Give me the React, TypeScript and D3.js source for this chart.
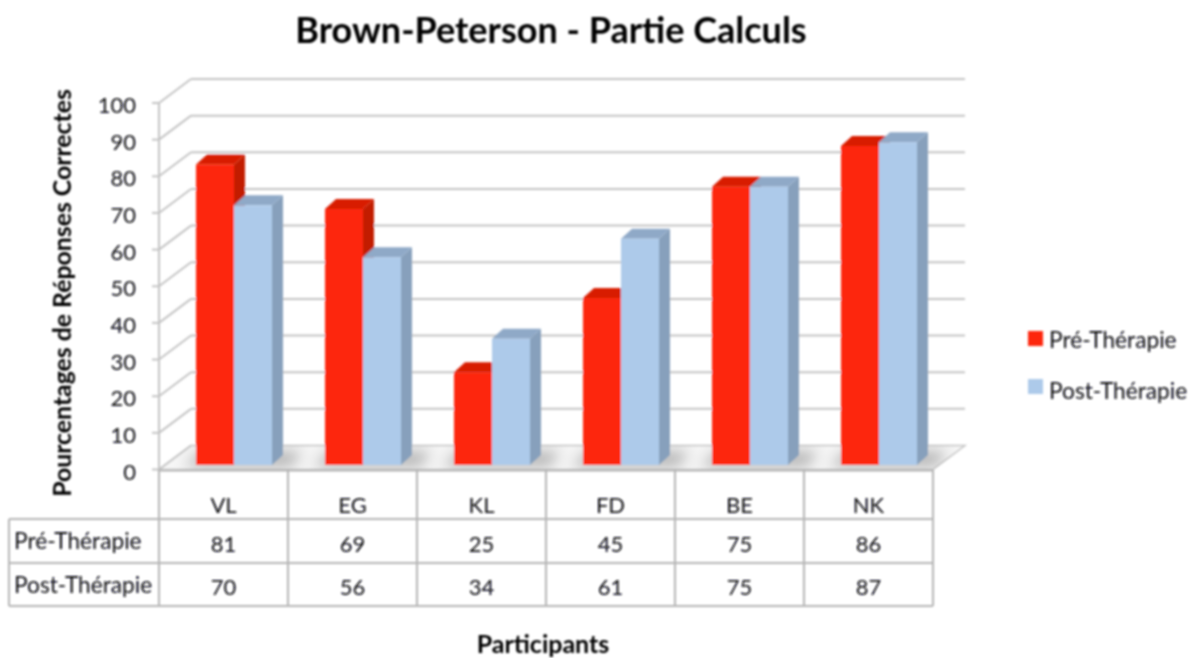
import React from "react";
import * as d3 from "d3";

const categories = ["VL", "EG", "KL", "FD", "BE", "NK"];
const pre = [81, 69, 25, 45, 75, 86];
const post = [70, 56, 34, 61, 75, 87];
const seriesNames = ["Pré-Thérapie", "Post-Thérapie"];
const ticks = [0, 10, 20, 30, 40, 50, 60, 70, 80, 90, 100];
const title = "Brown-Peterson - Partie Calculs";
const yTitle = "Pourcentages de Réponses Correctes";
const xTitle = "Participants";

const W = 1203, H = 658;
const FONT = "Lato, 'Open Sans', sans-serif";
const TXT = "#0d0d14";
const GRID = "#c4c4c4";
const RED = "#fd2508", RED_TOP = "#d81e02", RED_SIDE = "#c21a00";
const BLUE = "#adcaea", BLUE_TOP = "#8fa9c7", BLUE_SIDE = "#87a0bc";

const DX = 32, DY = -24;
const BDX = 11, BDY = -10;
const y = d3.scaleLinear().domain([0, 100]).range([469.5, 103]);
const yBar = d3.scaleLinear().domain([0, 100]).range([465, 94]);
const x = d3.scaleBand().domain(categories).range([159, 933]);
const BARW = 38, INSET = 37;

const poly = (p: number[][]) => p.map((q) => q.join(",")).join(" ");

function Bar({ x0, v, front, top, side }: { x0: number; v: number; front: string; top: string; side: string }) {
  const t = yBar(v), b = yBar(0), x1 = x0 + BARW;
  return (
    <g>
      <polygon points={poly([[x1, t], [x1 + BDX, t + BDY], [x1 + BDX, b + BDY], [x1, b]])} fill={side} />
      <polygon points={poly([[x0, t], [x0 + BDX, t + BDY], [x1 + BDX, t + BDY], [x1, t]])} fill={top} />
      <rect x={x0} y={t} width={BARW} height={b - t} fill={front} />
    </g>
  );
}

export default function App() {
  const colX = [...categories.map((c) => x(c)!), 933];
  const rows = [519, 563, 606];
  return (
    <svg width={W} height={H} style={{ position: "absolute", left: 0, top: 0, background: "#fff" }} fontFamily={FONT}>
      <defs>
        <filter id="soft" filterUnits="userSpaceOnUse" x={0} y={0} width={W} height={H}>
          <feGaussianBlur stdDeviation="0.8" />
        </filter>
        <filter id="shadow" x="-30%" y="-80%" width="160%" height="260%">
          <feGaussianBlur stdDeviation="7" />
        </filter>
        <clipPath id="floorClip">
          <polygon points={poly([[159, y(0)], [159 + DX, y(0) + DY], [933 + DX, y(0) + DY], [933, y(0)]])} />
        </clipPath>
      </defs>
      <g filter="url(#soft)">
        <text x={551} y={43} textAnchor="middle" fontSize={36} fontWeight={700} fill="#000">{title}</text>

        {/* floor */}
        <polygon points={poly([[159, y(0)], [159 + DX, y(0) + DY], [933 + DX, y(0) + DY], [933, y(0)]])} fill="#f6f6f6" stroke={GRID} strokeWidth={1.5} />
        <g clipPath="url(#floorClip)">
          {categories.map((c) => (
            <polygon key={c} points={poly([[x(c)! + INSET - 12, 467], [x(c)! + INSET + 4, 451], [x(c)! + INSET + 2 * BARW + 30, 451], [x(c)! + INSET + 2 * BARW + 20, 467]])} fill="#777" opacity={0.5} filter="url(#shadow)" />
          ))}
        </g>

        {/* walls and gridlines */}
        {ticks.map((t) => (
          <g key={t} stroke={GRID} strokeWidth={2} fill="none">
            {t > 0 && <line x1={159 + DX} x2={965} y1={y(t) + DY} y2={y(t) + DY} />}
            <line x1={159} x2={159 + DX} y1={y(t)} y2={y(t) + DY} />
            <line x1={152} x2={159} y1={y(t)} y2={y(t)} />
          </g>
        ))}
        <line x1={159} x2={159} y1={y(100)} y2={y(0)} stroke={GRID} strokeWidth={2} />

        {ticks.map((t) => (
          <text key={t} x={136} y={y(t) + 10} textAnchor="end" fontSize={22} fill={TXT}>{t}</text>
        ))}

        <text transform={`translate(71,293) rotate(-90)`} textAnchor="middle" fontSize={24.8} fontWeight={700} fill="#000">{yTitle}</text>

        {/* bars */}
        {categories.map((c, i) => (
          <g key={c}>
            <Bar x0={x(c)! + INSET} v={pre[i]} front={RED} top={RED_TOP} side={RED_SIDE} />
            <Bar x0={x(c)! + INSET + BARW} v={post[i]} front={BLUE} top={BLUE_TOP} side={BLUE_SIDE} />
          </g>
        ))}

        {/* data table */}
        <g stroke="#b5b5b5" strokeWidth={2} fill="none">
          <line x1={159} x2={933} y1={y(0) + 1} y2={y(0) + 1} />
          {rows.map((r) => <line key={r} x1={9} x2={933} y1={r} y2={r} />)}
          <line x1={9} x2={9} y1={rows[0]} y2={rows[2]} />
          {colX.map((cx) => <line key={cx} x1={cx} x2={cx} y1={y(0)} y2={rows[2]} />)}
        </g>
        {categories.map((c, i) => {
          const cx = x(c)! + x.bandwidth() / 2;
          return (
            <g key={c} textAnchor="middle" fontSize={22} fill={TXT}>
              <text x={cx} y={513}>{c}</text>
              <text x={cx} y={552}>{pre[i]}</text>
              <text x={cx} y={595}>{post[i]}</text>
            </g>
          );
        })}
        <text x={14} y={549} fontSize={22.7} fill={TXT}>{seriesNames[0]}</text>
        <text x={14} y={593} fontSize={22.7} fill={TXT}>{seriesNames[1]}</text>

        <text x={543} y={653} textAnchor="middle" fontSize={25} fontWeight={700} fill="#000">{xTitle}</text>

        {/* legend */}
        <rect x={1028} y={331} width={15} height={15} fill={RED} />
        <rect x={1028} y={379} width={15} height={15} fill={BLUE} />
        <text x={1049} y={348} fontSize={22.7} fill={TXT}>{seriesNames[0]}</text>
        <text x={1049} y={399} fontSize={22.7} fill={TXT}>{seriesNames[1]}</text>
      </g>
    </svg>
  );
}
